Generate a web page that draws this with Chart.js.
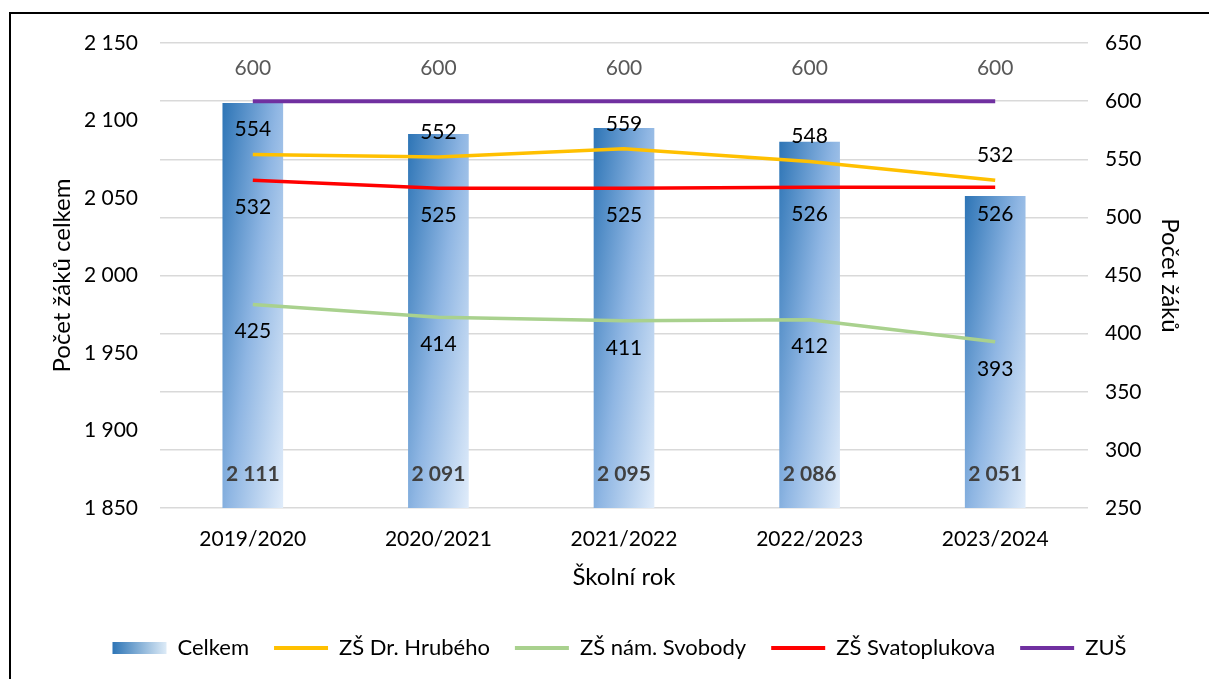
<!DOCTYPE html>
<html>
<head>
<meta charset="utf-8">
<script src="https://cdn.jsdelivr.net/npm/chart.js@4.4.1/dist/chart.umd.min.js"></script>
<style>
  html, body { margin: 0; padding: 0; background: #fff; overflow: hidden; }
  #frame { position: absolute; left: 9px; top: 12px; width: 1400px; height: 900px; border: 2px solid #000; box-sizing: border-box; }
  #wrap { position: absolute; left: 0; top: 0; width: 1209px; height: 679px; }
</style>
</head>
<body>
<div id="frame"></div>
<div id="wrap"><canvas id="chart" width="1209" height="679"></canvas></div>
<script>
// data
const YEARS = ["2019/2020", "2020/2021", "2021/2022", "2022/2023", "2023/2024"];
const CELKEM = [2111, 2091, 2095, 2086, 2051];
const HRUBEHO = [554, 552, 559, 548, 532];
const SVOBODY = [425, 414, 411, 412, 393];
const SVATOPLUKOVA = [532, 525, 525, 526, 526];
const ZUS = [600, 600, 600, 600, 600];

// axis ranges
const LEFT_MIN = 1850, LEFT_MAX = 2150, LEFT_STEP = 50;
const RIGHT_MIN = 250, RIGHT_MAX = 650, RIGHT_STEP = 50;

const FONT = "Lato";

// "2111" -> "2 111"
function fmt(n) {
  return String(n).replace(/\B(?=(\d{3})+(?!\d))/g, " ");
}

// Excel-like fill: dark top-left, light bottom-right
function barFill(context) {
  const chart = context.chart;
  if (!chart.chartArea || context.dataIndex === undefined) return "#5B9BD5";
  const xs = chart.scales.x, ys = chart.scales.y;
  const cx = xs.getPixelForValue(context.dataIndex);
  const top = ys.getPixelForValue(context.raw);
  const h = Math.max(ys.bottom - top, 1);
  const w = 60;
  const A = 0.55 / w, B = 0.45 / h;
  const d = A * A + B * B;
  const x0 = cx - w / 2;
  const g = chart.ctx.createLinearGradient(x0, top, x0 + A / d, top + B / d);
  g.addColorStop(0, "#2E75B6");
  g.addColorStop(0.5, "#8FB6E3");
  g.addColorStop(1, "#E0ECFA");
  return g;
}

// how far a value label sits from its point (px, negative = above)
const LABEL_OFFSET = { "ZŠ Dr. Hrubého": -25, "ZŠ nám. Svobody": 27, "ZŠ Svatoplukova": 27, "ZUŠ": -33 };

const labelPlugin = {
  id: "valueLabels",
  afterDatasetsDraw(chart) {
    const ctx = chart.ctx;
    const bottom = chart.scales.y.bottom;
    ctx.save();
    ctx.textAlign = "center";
    ctx.textBaseline = "middle";
    chart.data.datasets.forEach((ds, i) => {
      const meta = chart.getDatasetMeta(i);
      meta.data.forEach((el, j) => {
        const v = ds.data[j];
        if (ds.type === "line") {
          ctx.font = "21px " + FONT;
          ctx.fillStyle = ds.label === "ZUŠ" ? "#595959" : "#000";
          ctx.fillText(fmt(v), el.x, el.y + LABEL_OFFSET[ds.label]);
        } else {
          ctx.font = "bold 21px " + FONT;
          ctx.fillStyle = "#404040";
          ctx.fillText(fmt(v), el.x, bottom - 34);
        }
      });
    });
    ctx.restore();
  },
  afterDraw(chart) {
    // gradient swatch for the bar series in the legend
    const hb = chart.legend && chart.legend.legendHitBoxes[0];
    if (!hb) return;
    const ctx = chart.ctx;
    const cy = hb.top + hb.height / 2;
    const g = ctx.createLinearGradient(hb.left, 0, hb.left + 54, 0);
    g.addColorStop(0, "#2E75B6");
    g.addColorStop(1, "#DDEBF7");
    ctx.save();
    ctx.fillStyle = g;
    ctx.fillRect(hb.left, cy - 6, 54, 12);
    ctx.restore();
  }
};

new Chart(document.getElementById("chart"), {
  type: "bar",
  data: {
    labels: YEARS,
    datasets: [
      { label: "Celkem", data: CELKEM, yAxisID: "y", backgroundColor: barFill, barThickness: 60, order: 10 },
      { type: "line", label: "ZŠ Dr. Hrubého", data: HRUBEHO, yAxisID: "y1", borderColor: "#FFC000", borderWidth: 3.5, pointRadius: 0, order: 4 },
      { type: "line", label: "ZŠ nám. Svobody", data: SVOBODY, yAxisID: "y1", borderColor: "#A9D18E", borderWidth: 3.5, pointRadius: 0, order: 3 },
      { type: "line", label: "ZŠ Svatoplukova", data: SVATOPLUKOVA, yAxisID: "y1", borderColor: "#FF0000", borderWidth: 3.5, pointRadius: 0, order: 2 },
      { type: "line", label: "ZUŠ", data: ZUS, yAxisID: "y1", borderColor: "#7030A0", borderWidth: 4, pointRadius: 0, order: 1 }
    ]
  },
  options: {
    responsive: false,
    animation: false,
    devicePixelRatio: 1,
    layout: { padding: { top: 43, left: 30, right: 0, bottom: 10 } },
    plugins: {
      tooltip: { enabled: false },
      legend: {
        position: "bottom",
        labels: {
          usePointStyle: true,
          pointStyleWidth: 54,
          boxHeight: 12,
          padding: 25,
          color: "#000",
          font: { family: FONT, size: 22 },
          generateLabels: (chart) => chart.data.datasets.map((ds, i) => {
            const isLine = ds.type === "line";
            return {
              text: ds.label,
              fillStyle: isLine ? ds.borderColor : "rgba(0,0,0,0)",
              strokeStyle: isLine ? ds.borderColor : "rgba(0,0,0,0)",
              lineWidth: isLine ? 4 : 0,
              pointStyle: isLine ? "line" : "rect",
              fontColor: "#000",
              hidden: false,
              datasetIndex: i
            };
          })
        }
      }
    },
    scales: {
      x: {
        grid: { display: false, drawTicks: false },
        border: { display: false },
        ticks: { color: "#000", padding: 19, font: { family: FONT, size: 21 } },
        title: { display: true, text: "Školní rok", color: "#000", font: { family: FONT, size: 24 }, padding: { top: 0, bottom: 20 } },
        afterFit: (s) => { s.height = 104; }
      },
      y: {
        position: "left",
        min: LEFT_MIN, max: LEFT_MAX,
        grid: { display: false, drawTicks: false },
        border: { display: false },
        ticks: { stepSize: LEFT_STEP, color: "#000", padding: 22, font: { family: FONT, size: 21 }, callback: (v) => fmt(v) },
        title: { display: true, text: "Počet žáků celkem", color: "#000", font: { family: FONT, size: 24 }, padding: { top: 18, bottom: 0 } },
        afterFit: (s) => { s.width = 130; }
      },
      y1: {
        position: "right",
        min: RIGHT_MIN, max: RIGHT_MAX,
        grid: { color: "#D9D9D9", lineWidth: 1.5, drawTicks: false },
        border: { display: false },
        ticks: { stepSize: RIGHT_STEP, color: "#000", padding: 17, font: { family: FONT, size: 21 } },
        title: { display: true, text: "Počet žáků", color: "#000", font: { family: FONT, size: 24 }, padding: { top: 25, bottom: 0 } },
        afterFit: (s) => { s.width = 121; }
      }
    }
  },
  plugins: [labelPlugin]
});
</script>
</body>
</html>
